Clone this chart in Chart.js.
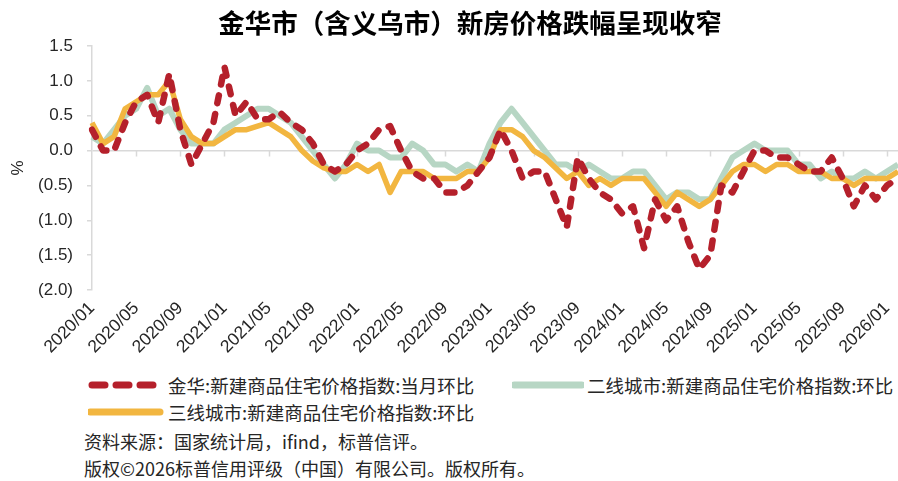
<!DOCTYPE html>
<html>
<head>
<meta charset="utf-8">
<script src="https://cdn.jsdelivr.net/npm/chart.js@4.4.1/dist/chart.umd.min.js"></script>
<style>
  body { margin: 0; background: #fff; }
  #wrap { position: relative; width: 898px; height: 481px; overflow: hidden; font-family: 'Noto Sans CJK SC', sans-serif; color: #262626; }
  #title { position: absolute; left: 0; width: 940px; top: 8px; text-align: center; font-size: 26.5px; font-weight: bold; line-height: 28px; color: #000; }
  #chartBox { position: absolute; left: 0; top: 0; }
  .key { position: absolute; }
  .lg { position: absolute; font-size: 18.5px; line-height: 22px; white-space: nowrap; }
  .note { position: absolute; left: 84px; font-size: 18px; line-height: 22px; white-space: nowrap; }
</style>
</head>
<body>
<div id="wrap">
  <canvas id="chartBox" width="898" height="372"></canvas>
  <div id="title">金华市（含义乌市）新房价格跌幅呈现收窄</div>

  <svg class="key" style="left:88px; top:380px" width="72" height="10">
    <line x1="4" y1="5" x2="66" y2="5" stroke="#B5202B" stroke-width="7" stroke-linecap="round" stroke-dasharray="13 11"/>
  </svg>
  <div class="lg" style="left:168px; top:374px">金华:新建商品住宅价格指数:当月环比</div>

  <svg class="key" style="left:512px; top:380px" width="72" height="10">
    <line x1="2" y1="5" x2="70" y2="5" stroke="#B7D6C4" stroke-width="7" stroke-linecap="round"/>
  </svg>
  <div class="lg" style="left:587px; top:374px">二线城市:新建商品住宅价格指数:环比</div>

  <svg class="key" style="left:88px; top:407px" width="76" height="10">
    <line x1="2" y1="5" x2="72" y2="5" stroke="#F2B640" stroke-width="7" stroke-linecap="round"/>
  </svg>
  <div class="lg" style="left:168px; top:401px">三线城市:新建商品住宅价格指数:环比</div>

  <div class="note" style="top:430px">资料来源：国家统计局，ifind，标普信评。</div>
  <div class="note" style="top:457px">版权©2026标普信用评级（中国）有限公司。版权所有。</div>
</div>

<script>
// ===== DATA =====
const months = [];
for (let y = 2020; y <= 2026; y++) {
  for (let m = 1; m <= 12; m++) {
    if (y === 2026 && m > 2) break;
    months.push(y + '/' + String(m).padStart(2, '0'));
  }
}

// 金华 当月环比 (%)
const jinhua = [
  0.3, 0.0, 0.0, 0.4, 0.7, 0.8, 0.4, 1.1, 0.3, -0.2,
  0.1, 0.4, 1.2, 0.5, 0.7, 0.45, 0.45, 0.55, 0.4, 0.3,
  0.1, -0.2, -0.3, -0.2, 0.0, 0.1, 0.3, 0.35, 0.0, -0.3,
  -0.4, -0.4, -0.6, -0.6, -0.5, -0.3, -0.1, 0.3, 0.0, -0.4,
  -0.3, -0.3, -0.7, -1.1, -0.1, -0.4, -0.6, -0.7, -0.9, -0.8,
  -1.4, -0.7, -1.0, -0.8, -1.3, -1.7, -1.5, -0.5, -0.6, -0.3,
  0.0, 0.0, -0.1, -0.1, -0.2, -0.3, -0.3, -0.1, -0.4, -0.8,
  -0.5, -0.7, -0.5, -0.4
];

// 二线城市 环比 (%)
const tier2 = [
  0.2, 0.1, 0.3, 0.5, 0.6, 0.9, 0.5, 0.6, 0.3, 0.1,
  0.1, 0.1, 0.3, 0.4, 0.5, 0.6, 0.6, 0.5, 0.4, 0.2,
  0.0, -0.2, -0.4, -0.2, 0.1, 0.0, 0.0, -0.1, -0.1, 0.1,
  0.0, -0.2, -0.2, -0.3, -0.2, -0.3, 0.1, 0.4, 0.6, 0.4,
  0.2, 0.0, -0.2, -0.2, -0.3, -0.2, -0.3, -0.4, -0.4, -0.3,
  -0.3, -0.5, -0.7, -0.6, -0.6, -0.7, -0.7, -0.4, -0.1, 0.0,
  0.1, 0.0, 0.0, 0.0, -0.2, -0.2, -0.4, -0.3, -0.4, -0.4,
  -0.3, -0.4, -0.3, -0.2
];

// 三线城市 环比 (%)
const tier3 = [
  0.4, 0.1, 0.2, 0.6, 0.7, 0.8, 0.8, 1.0, 0.45, 0.2,
  0.1, 0.1, 0.2, 0.3, 0.3, 0.35, 0.4, 0.3, 0.2, 0.0,
  -0.15, -0.25, -0.3, -0.3, -0.2, -0.3, -0.2, -0.6, -0.3, -0.3,
  -0.3, -0.4, -0.4, -0.4, -0.3, -0.3, -0.1, 0.3, 0.3, 0.2,
  0.0, -0.1, -0.25, -0.4, -0.3, -0.5, -0.4, -0.5, -0.4, -0.4,
  -0.4, -0.6, -0.8, -0.6, -0.7, -0.8, -0.7, -0.5, -0.3, -0.2,
  -0.2, -0.3, -0.2, -0.2, -0.3, -0.3, -0.3, -0.4, -0.4, -0.5,
  -0.4, -0.4, -0.4, -0.3
];

const labelEvery = 4;
const axisGrey = '#d9d9d9';

// small downward tick marks sitting on the zero line
const zeroTicks = {
  id: 'zeroTicks',
  beforeDatasetsDraw(chart) {
    const xs = chart.scales.x, ys = chart.scales.y;
    const y0 = ys.getPixelForValue(0);
    const ctx = chart.ctx;
    ctx.save();
    ctx.strokeStyle = axisGrey;
    ctx.lineWidth = 1.5;
    ctx.beginPath();
    months.forEach((m, i) => {
      if (i > 0 && i % labelEvery === 0) {
        const x = Math.round(xs.getPixelForValue(i)) + 0.5;
        ctx.moveTo(x, y0);
        ctx.lineTo(x, y0 + 6);
      }
    });
    ctx.stroke();
    ctx.restore();
  }
};

Chart.defaults.font.family = "'Liberation Sans', 'Noto Sans CJK SC', sans-serif";
Chart.defaults.color = '#262626';

new Chart(document.getElementById('chartBox').getContext('2d'), {
  type: 'line',
  data: {
    labels: months,
    datasets: [
      {
        label: '金华:新建商品住宅价格指数:当月环比',
        data: jinhua,
        borderColor: '#B5202B',
        borderWidth: 6.5,
        borderDash: [8, 11],
        borderCapStyle: 'round',
        borderJoinStyle: 'round',
        pointRadius: 0,
        tension: 0,
        order: 0
      },
      {
        label: '二线城市:新建商品住宅价格指数:环比',
        data: tier2,
        borderColor: '#B7D6C4',
        borderWidth: 6,
        borderJoinStyle: 'round',
        pointRadius: 0,
        tension: 0,
        order: 2
      },
      {
        label: '三线城市:新建商品住宅价格指数:环比',
        data: tier3,
        borderColor: '#F2B640',
        borderWidth: 5.5,
        borderJoinStyle: 'round',
        pointRadius: 0,
        tension: 0,
        order: 1
      }
    ]
  },
  options: {
    responsive: false,
    animation: false,
    layout: { padding: { top: 46, right: 0, left: 0, bottom: 0 } },
    plugins: {
      legend: { display: false },
      tooltip: { enabled: false }
    },
    scales: {
      x: {
        offset: false,
        grid: { display: false, drawTicks: false },
        border: { display: false },
        ticks: {
          autoSkip: false,
          minRotation: 45,
          maxRotation: 45,
          padding: 8,
          font: { size: 17.5 },
          callback: function(value, index) {
            return index % labelEvery === 0 ? this.getLabelForValue(value) : '';
          }
        },
        afterFit: function(scale) {
          scale.height = 82;
          scale.paddingRight = 0;
        }
      },
      y: {
        min: -2,
        max: 1.5,
        ticks: {
          stepSize: 0.5,
          padding: 14,
          font: { size: 17 },
          callback: function(value) {
            const v = Math.round(value * 10) / 10;
            return v < 0 ? '(' + Math.abs(v).toFixed(1) + ')' : v.toFixed(1);
          }
        },
        grid: {
          color: function(c) { return c.tick && c.tick.value === 0 ? axisGrey : 'rgba(0,0,0,0)'; },
          lineWidth: 1.5,
          tickColor: axisGrey,
          tickLength: 5,
          drawTicks: true
        },
        border: { display: true, color: axisGrey, width: 1.5 },
        title: { display: true, text: '%', font: { size: 17 }, padding: { top: 8, bottom: 0 } },
        afterFit: function(scale) { scale.width = 92; }
      }
    }
  },
  plugins: [zeroTicks]
});
</script>
</body>
</html>
